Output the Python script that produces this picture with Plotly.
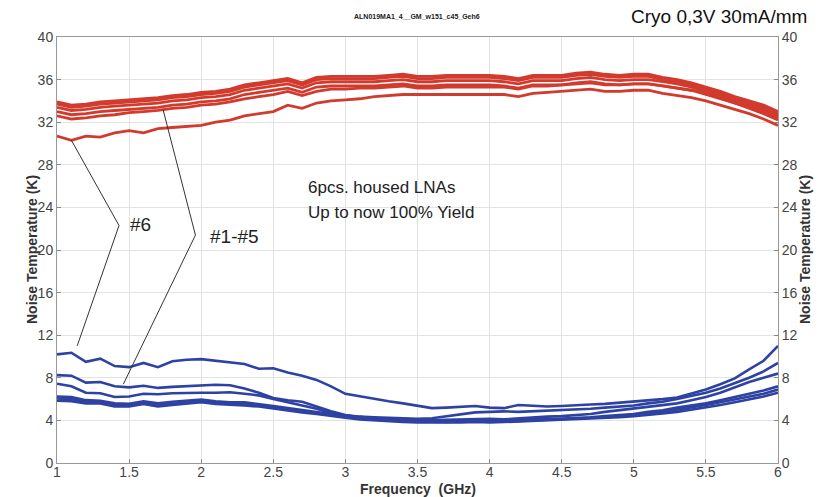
import plotly.graph_objects as go

# Frequency grid (GHz)
freq = [round(1.0 + 0.1 * i, 1) for i in range(51)]

# Noise temperature (K) of the six housed LNAs, upper (red) group
red_1 = [33.9, 33.6, 33.7, 33.9, 34.0, 34.1, 34.2, 34.3, 34.5, 34.6,
         34.8, 34.9, 35.1, 35.5, 35.7, 35.9, 36.1, 35.7, 36.2, 36.3,
         36.3, 36.3, 36.3, 36.4, 36.5, 36.3, 36.3, 36.4, 36.4, 36.4,
         36.4, 36.3, 36.1, 36.4, 36.4, 36.4, 36.6, 36.7, 36.5, 36.4,
         36.5, 36.5, 36.2, 36.0, 35.7, 35.3, 34.9, 34.4, 34.0, 33.6, 33.0]
red_2 = [33.7, 33.4, 33.5, 33.7, 33.8, 33.9, 34.0, 34.1, 34.3, 34.4,
         34.6, 34.7, 34.9, 35.3, 35.5, 35.7, 35.9, 35.5, 36.0, 36.1,
         36.1, 36.1, 36.1, 36.2, 36.3, 36.1, 36.1, 36.2, 36.2, 36.2,
         36.2, 36.1, 35.9, 36.2, 36.2, 36.2, 36.4, 36.5, 36.3, 36.2,
         36.3, 36.3, 36.0, 35.8, 35.5, 35.1, 34.7, 34.2, 33.8, 33.4, 32.8]
red_3 = [33.4, 33.1, 33.2, 33.4, 33.5, 33.6, 33.7, 33.8, 34.0, 34.1,
         34.3, 34.4, 34.6, 35.0, 35.2, 35.4, 35.6, 35.2, 35.7, 35.8,
         35.8, 35.8, 35.8, 35.9, 36.0, 35.8, 35.8, 35.9, 35.9, 35.9,
         35.9, 35.8, 35.6, 35.9, 35.9, 35.9, 36.1, 36.2, 36.0, 35.9,
         36.0, 36.0, 35.8, 35.6, 35.3, 34.9, 34.5, 34.0, 33.6, 33.2, 32.6]
red_4 = [33.0, 32.7, 32.8, 33.0, 33.1, 33.2, 33.3, 33.4, 33.6, 33.7,
         33.9, 34.0, 34.2, 34.6, 34.8, 35.0, 35.2, 34.8, 35.3, 35.4,
         35.4, 35.4, 35.4, 35.5, 35.6, 35.4, 35.4, 35.5, 35.5, 35.5,
         35.5, 35.4, 35.2, 35.5, 35.5, 35.5, 35.7, 35.8, 35.6, 35.5,
         35.6, 35.6, 35.4, 35.2, 35.0, 34.6, 34.2, 33.8, 33.4, 33.0, 32.4]
red_5 = [32.6, 32.3, 32.4, 32.6, 32.7, 32.9, 33.0, 33.1, 33.3, 33.4,
         33.6, 33.7, 33.9, 34.2, 34.4, 34.6, 34.9, 34.5, 34.9, 35.1,
         35.1, 35.2, 35.2, 35.3, 35.4, 35.2, 35.2, 35.3, 35.3, 35.3,
         35.3, 35.3, 35.1, 35.4, 35.4, 35.5, 35.6, 35.7, 35.5, 35.5,
         35.6, 35.6, 35.4, 35.2, 35.0, 34.7, 34.3, 33.8, 33.3, 32.8, 32.2]
red_6 = [30.7, 30.3, 30.7, 30.6, 31.0, 31.2, 31.0, 31.4, 31.5, 31.6,
         31.7, 32.0, 32.2, 32.6, 32.8, 33.0, 33.6, 33.3, 33.8, 34.0,
         34.1, 34.2, 34.4, 34.5, 34.6, 34.6, 34.6, 34.6, 34.6, 34.6,
         34.6, 34.6, 34.4, 34.7, 34.8, 34.9, 35.0, 35.1, 34.9, 34.9,
         35.0, 35.0, 34.7, 34.5, 34.3, 34.0, 33.6, 33.2, 32.8, 32.3, 31.7]

# Lower (blue) group
blue_1 = [5.85, 5.8, 5.6, 5.6, 5.3, 5.3, 5.55, 5.3, 5.45, 5.6,
          5.7, 5.55, 5.5, 5.4, 5.3, 5.1, 4.9, 4.75, 4.6, 4.4,
          4.25, 4.1, 4.0, 3.9, 3.85, 3.8, 3.8, 3.75, 3.8, 3.85,
          3.8, 3.85, 3.9, 3.95, 4.0, 4.05, 4.1, 4.15, 4.2, 4.3,
          4.4, 4.5, 4.65, 4.8, 5.0, 5.2, 5.45, 5.7, 5.95, 6.25, 6.6]
blue_2 = [8.25, 8.2, 7.55, 7.6, 7.2, 7.1, 7.25, 7.05, 7.15, 7.2,
          7.3, 7.35, 7.3, 7.0, 6.6, 6.1, 5.9, 5.75, 5.3, 4.85,
          4.5, 4.35, 4.3, 4.25, 4.2, 4.15, 4.2, 4.4, 4.6, 4.75,
          4.8, 4.85, 4.8, 4.85, 4.9, 4.95, 5.0, 5.1, 5.2, 5.3,
          5.4, 5.6, 5.75, 6.0, 6.3, 6.6, 7.0, 7.5, 8.0, 8.6, 9.4]
blue_3 = [7.45, 7.2, 6.6, 6.55, 6.2, 6.25, 6.5, 6.45, 6.55, 6.6,
          6.6, 6.6, 6.65, 6.5, 6.35, 6.0, 5.7, 5.4, 5.1, 4.7,
          4.45, 4.3, 4.2, 4.15, 4.1, 4.05, 4.0, 4.05, 4.1, 4.1,
          4.15, 4.1, 4.2, 4.3, 4.35, 4.4, 4.5, 4.6, 4.8, 4.95,
          5.1, 5.25, 5.4, 5.6, 5.9, 6.2, 6.6, 7.1, 7.6, 8.0, 8.4]
blue_4 = [6.25, 6.2, 5.9, 5.85, 5.6, 5.55, 5.8, 5.6, 5.75, 5.85,
          5.95, 5.8, 5.7, 5.7, 5.55, 5.35, 5.15, 4.95, 4.8, 4.6,
          4.45, 4.3, 4.2, 4.1, 4.0, 3.95, 3.9, 3.9, 3.95, 3.95,
          3.9, 3.95, 4.0, 4.1, 4.1, 4.15, 4.2, 4.3, 4.4, 4.5,
          4.6, 4.8, 4.95, 5.2, 5.4, 5.6, 5.9, 6.2, 6.5, 6.8, 7.2]
blue_5 = [6.05, 6.0, 5.75, 5.7, 5.45, 5.4, 5.6, 5.4, 5.55, 5.7,
          5.8, 5.65, 5.6, 5.55, 5.4, 5.2, 5.0, 4.85, 4.7, 4.5,
          4.35, 4.2, 4.1, 4.0, 3.95, 3.9, 3.85, 3.85, 3.9, 3.9,
          3.85, 3.9, 3.95, 4.0, 4.05, 4.1, 4.15, 4.2, 4.3, 4.4,
          4.5, 4.65, 4.8, 5.0, 5.2, 5.45, 5.7, 5.95, 6.2, 6.5, 6.9]
blue_6 = [10.2, 10.35, 9.5, 9.8, 9.1, 9.0, 9.4, 9.0, 9.55, 9.7,
          9.75, 9.6, 9.45, 9.3, 8.85, 8.9, 8.5, 8.2, 7.8, 7.2,
          6.5, 6.25, 6.05, 5.8, 5.6, 5.4, 5.15, 5.2, 5.3, 5.35,
          5.2, 5.15, 5.45, 5.35, 5.3, 5.35, 5.45, 5.5, 5.55, 5.65,
          5.8, 5.9, 6.0, 6.15, 6.5, 6.9, 7.4, 7.95, 8.8, 9.6, 11.0]

red_series = [red_1, red_2, red_3, red_4, red_5, red_6]
blue_series = [blue_1, blue_2, blue_3, blue_4, blue_5, blue_6]

x_ticks = [1, 1.5, 2, 2.5, 3, 3.5, 4, 4.5, 5, 5.5, 6]
y_ticks = [0, 4, 8, 12, 16, 20, 24, 28, 32, 36, 40]

RED = "#d23a2e"
BLUE = "#2d42a3"
FONT = "Liberation Sans, Arial, sans-serif"

# plot-area geometry in pixels
W, H = 821, 497
ML, MR, MT, MB = 57, 43, 37, 34
PW, PH = W - ML - MR, H - MT - MB

fig = go.Figure()
for s in red_series:
    fig.add_trace(go.Scatter(x=freq, y=s, mode="lines",
                             line=dict(color=RED, width=2.8),
                             showlegend=False, hoverinfo="skip"))
for s in blue_series:
    fig.add_trace(go.Scatter(x=freq, y=s, mode="lines",
                             line=dict(color=BLUE, width=2.6),
                             showlegend=False, hoverinfo="skip"))
# invisible trace so the right-hand temperature axis is drawn
fig.add_trace(go.Scatter(x=[freq[0]], y=[0], yaxis="y2", mode="lines",
                         line=dict(color="rgba(0,0,0,0)"),
                         showlegend=False, hoverinfo="skip"))

axis_common = dict(
    showline=True, linecolor="#999999", linewidth=1,
    ticks="inside", ticklen=4, tickcolor="#888888",
    tickfont=dict(family=FONT, size=14, color="#444444"),
    zeroline=False, automargin=False,
)

fig.update_layout(
    width=W, height=H,
    margin=dict(l=ML, r=MR, t=MT, b=MB),
    paper_bgcolor="white", plot_bgcolor="white",
    xaxis=dict(range=[1, 6], tickvals=x_ticks,
               ticktext=[f"{v:g}" for v in x_ticks], ticklabelstandoff=-4,
               showgrid=True, gridcolor="#e3e3e3", gridwidth=1,
               mirror=True, **axis_common),
    yaxis=dict(range=[0, 40], tickvals=y_ticks,
               showgrid=True, gridcolor="#e3e3e3", gridwidth=1,
               **axis_common),
    yaxis2=dict(range=[0, 40], tickvals=y_ticks, overlaying="y", side="right",
                showgrid=False, **axis_common),
)

# axis titles
title_font = dict(family=FONT, size=14, color="#333333")
fig.add_annotation(xref="paper", yref="paper", x=0.5, y=-(489 - (H - MB)) / PH,
                   yanchor="middle", text="<b>Frequency  (GHz)</b>",
                   showarrow=False, font=title_font)
fig.add_annotation(xref="paper", yref="paper", x=-(ML - 32) / PW, y=0.5,
                   xanchor="center", yanchor="middle", textangle=-90,
                   text="<b>Noise Temperature (K)</b>", showarrow=False,
                   font=title_font)
fig.add_annotation(xref="paper", yref="paper", x=1 + (805 - (W - MR)) / PW,
                   y=0.5, xanchor="center", yanchor="middle", textangle=-90,
                   text="<b>Noise Temperature (K)</b>", showarrow=False,
                   font=title_font)

# leader lines from the labels to the curves
leader = dict(type="line", xref="x", yref="y",
              line=dict(color="#333333", width=1))
fig.add_shape(x0=1.43, y0=22.3, x1=1.1, y1=red_6[1], **leader)
fig.add_shape(x0=1.43, y0=22.3, x1=1.14, y1=11.0, **leader)
fig.add_shape(x0=1.96, y0=21.4, x1=1.735, y1=33.2, **leader)
fig.add_shape(x0=1.96, y0=21.4, x1=1.46, y1=7.4, **leader)

fig.add_annotation(x=1.49, y=22.4, xref="x", yref="y", text="#6",
                   showarrow=False, xanchor="left",
                   font=dict(family=FONT, size=19, color="#222222"))
fig.add_annotation(x=2.05, y=21.3, xref="x", yref="y", text="#1-#5",
                   showarrow=False, xanchor="left",
                   font=dict(family=FONT, size=19, color="#222222"))
fig.add_annotation(x=2.73, y=25.9, xref="x", yref="y",
                   text="6pcs. housed LNAs", showarrow=False, xanchor="left",
                   font=dict(family=FONT, size=17, color="#222222"))
fig.add_annotation(x=2.73, y=23.5, xref="x", yref="y",
                   text="Up to now 100% Yield", showarrow=False, xanchor="left",
                   font=dict(family=FONT, size=17, color="#222222"))

# header texts above the plot area
fig.add_annotation(xref="paper", yref="paper",
                   x=(417 - ML) / PW, y=1 + 21 / PH, yanchor="middle",
                   text="<b>ALN019MA1_4__GM_w151_c45_Geh6</b>", showarrow=False,
                   font=dict(family=FONT, size=7, color="#222222"))
fig.add_annotation(xref="paper", yref="paper", x=(809 - ML) / PW,
                   y=1 + 20 / PH, xanchor="right", yanchor="middle",
                   text="Cryo 0,3V 30mA/mm", showarrow=False,
                   font=dict(family=FONT, size=19, color="#111111"))

fig.write_html("out.html")
